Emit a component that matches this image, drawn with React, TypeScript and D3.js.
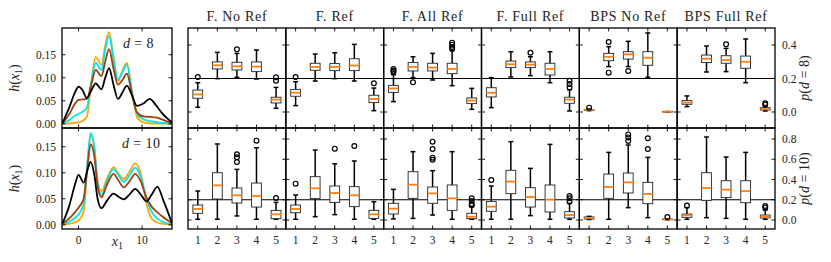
import React from 'react'
import * as d3 from 'd3'

const methods = ['F. No Ref', 'F. Ref', 'F. All Ref', 'F. Full Ref', 'BPS No Ref', 'BPS Full Ref']
const categories = [1, 2, 3, 4, 5]
const refLevel = 0.2

// [lower whisker, q1, median, q3, upper whisker, outliers]
type Box = [number, number, number, number, number, number[]]

// d = 8
const fNoRef8: Box[] = [
  [0.028, 0.082, 0.105, 0.131, 0.175, [0.209]],
  [0.199, 0.257, 0.279, 0.299, 0.356, []],
  [0.207, 0.251, 0.273, 0.297, 0.350, [0.374]],
  [0.197, 0.241, 0.271, 0.299, 0.370, []],
  [0.022, 0.054, 0.074, 0.088, 0.147, [0.187, 0.207]],
]
const fRef8: Box[] = [
  [0.038, 0.094, 0.115, 0.135, 0.181, [0.209]],
  [0.185, 0.249, 0.269, 0.291, 0.346, []],
  [0.199, 0.247, 0.269, 0.289, 0.354, []],
  [0.185, 0.247, 0.277, 0.318, 0.404, []],
  [0.008, 0.056, 0.078, 0.100, 0.143, [0.171]],
]
const fAllRef8: Box[] = [
  [0.062, 0.117, 0.141, 0.159, 0.223, [0.239, 0.247, 0.257]],
  [0.205, 0.245, 0.269, 0.295, 0.330, [0.177]],
  [0.191, 0.245, 0.265, 0.291, 0.350, []],
  [0.157, 0.229, 0.257, 0.291, 0.366, [0.378, 0.388, 0.402, 0.414]],
  [0.016, 0.050, 0.068, 0.084, 0.141, []],
]
const fFullRef8: Box[] = [
  [0.026, 0.090, 0.115, 0.145, 0.205, []],
  [0.209, 0.265, 0.285, 0.304, 0.360, []],
  [0.217, 0.265, 0.283, 0.299, 0.330, [0.354]],
  [0.175, 0.221, 0.257, 0.291, 0.360, []],
  [0.006, 0.052, 0.074, 0.088, 0.133, [0.147, 0.167, 0.187]],
]
const bpsNoRef8: Box[] = [
  [0.008, 0.010, 0.012, 0.015, 0.018, [0.026]],
  [0.271, 0.306, 0.330, 0.350, 0.390, [0.235, 0.418]],
  [0.271, 0.316, 0.344, 0.360, 0.422, [0.245]],
  [0.207, 0.279, 0.324, 0.360, 0.472, []],
  [0.001, 0.002, 0.002, 0.003, 0.003, []],
]
const bpsFullRef8: Box[] = [
  [0.032, 0.046, 0.056, 0.068, 0.096, []],
  [0.239, 0.295, 0.318, 0.340, 0.394, []],
  [0.241, 0.291, 0.310, 0.336, 0.380, [0.404]],
  [0.175, 0.261, 0.300, 0.334, 0.436, []],
  [0.006, 0.012, 0.020, 0.026, 0.036, [0.044, 0.052]],
]

// d = 10
const fNoRef10: Box[] = [
  [0.007, 0.066, 0.109, 0.148, 0.286, []],
  [0.007, 0.207, 0.342, 0.467, 0.751, []],
  [0.040, 0.168, 0.244, 0.316, 0.500, [0.573, 0.619, 0.649]],
  [0.007, 0.128, 0.237, 0.365, 0.714, [0.784]],
  [0.007, 0.013, 0.056, 0.095, 0.174, [0.217]],
]
const fRef10: Box[] = [
  [0.007, 0.072, 0.109, 0.148, 0.247, [0.359]],
  [0.033, 0.211, 0.313, 0.428, 0.691, []],
  [0.053, 0.174, 0.267, 0.336, 0.556, [0.705]],
  [0.007, 0.132, 0.244, 0.329, 0.583, [0.731]],
  [0.007, 0.016, 0.056, 0.095, 0.181, []],
]
const fAllRef10: Box[] = [
  [0.010, 0.059, 0.112, 0.165, 0.303, []],
  [0.016, 0.214, 0.349, 0.477, 0.675, []],
  [0.049, 0.165, 0.263, 0.326, 0.487, [0.596, 0.616, 0.701, 0.774]],
  [0.007, 0.095, 0.214, 0.346, 0.675, []],
  [0.007, 0.013, 0.033, 0.066, 0.132, [0.145, 0.158, 0.188, 0.214]],
]
const fFullRef10: Box[] = [
  [0.007, 0.086, 0.132, 0.184, 0.336, [0.395]],
  [0.007, 0.260, 0.379, 0.491, 0.774, []],
  [0.043, 0.128, 0.227, 0.319, 0.510, []],
  [0.007, 0.079, 0.201, 0.346, 0.747, []],
  [0.007, 0.020, 0.049, 0.082, 0.165, [0.181, 0.214, 0.237]],
]
const bpsNoRef10: Box[] = [
  [0.005, 0.010, 0.020, 0.030, 0.036, []],
  [0.007, 0.214, 0.326, 0.454, 0.668, []],
  [0.122, 0.267, 0.372, 0.464, 0.741, [0.780, 0.816, 0.846]],
  [0.023, 0.161, 0.257, 0.372, 0.619, [0.701, 0.807]],
  [0.002, 0.004, 0.007, 0.009, 0.012, [0.030]],
]
const bpsFullRef10: Box[] = [
  [0.007, 0.026, 0.046, 0.059, 0.122, [0.142]],
  [0.023, 0.194, 0.316, 0.467, 0.820, []],
  [0.016, 0.221, 0.300, 0.388, 0.622, []],
  [0.007, 0.171, 0.286, 0.388, 0.668, []],
  [0.007, 0.020, 0.033, 0.049, 0.099, [0.122, 0.138]],
]

const boxes8 = [fNoRef8, fRef8, fAllRef8, fFullRef8, bpsNoRef8, bpsFullRef8]
const boxes10 = [fNoRef10, fRef10, fAllRef10, fFullRef10, bpsNoRef10, bpsFullRef10]

// densities h(x1), d = 8
const hx8 = [-2.5, -1.5, -0.5, 0, 0.6, 1.3, 2, 2.7, 3.6, 4.2, 4.8, 5.5, 6.2, 6.9, 7.6, 8.4, 9.2, 10.2, 11.2, 12.2, 13.2, 14.7]
const h8Black = [0.002, 0.034, 0.07, 0.081, 0.074, 0.056, 0.072, 0.088, 0.075, 0.1, 0.121, 0.085, 0.054, 0.068, 0.083, 0.062, 0.039, 0.044, 0.054, 0.04, 0.022, 0.003]
const h8Brown = [0.002, 0.02, 0.045, 0.052, 0.053, 0.054, 0.085, 0.117, 0.104, 0.135, 0.162, 0.12, 0.085, 0.095, 0.109, 0.065, 0.025, 0.016, 0.015, 0.014, 0.009, 0.001]
const h8Cyan = [0.001, 0.008, 0.018, 0.022, 0.026, 0.035, 0.09, 0.133, 0.117, 0.16, 0.191, 0.14, 0.096, 0.112, 0.128, 0.07, 0.022, 0.01, 0.006, 0.004, 0.002, 0.001]
const h8Orange = [0.0005, 0.001, 0.002, 0.003, 0.006, 0.015, 0.09, 0.145, 0.128, 0.17, 0.199, 0.145, 0.092, 0.115, 0.132, 0.07, 0.015, 0.003, 0.001, 0.0005, 0.0003, 0.0002]

// densities h(x1), d = 10
const hx10 = [-2.5, -1.5, -0.5, 0, 0.8, 1.4, 1.9, 2.5, 3.0, 3.6, 4.5, 5.5, 6.3, 7.1, 8.0, 8.9, 9.8, 10.7, 11.5, 12.4, 13.4, 14.7]
const h10Black = [0.003, 0.035, 0.08, 0.096, 0.081, 0.105, 0.121, 0.095, 0.05, 0.032, 0.047, 0.06, 0.054, 0.049, 0.058, 0.069, 0.058, 0.045, 0.058, 0.073, 0.045, 0.003]
const h10Brown = [0.002, 0.012, 0.025, 0.033, 0.05, 0.11, 0.155, 0.13, 0.075, 0.053, 0.078, 0.098, 0.085, 0.072, 0.083, 0.098, 0.083, 0.052, 0.035, 0.024, 0.014, 0.003]
const h10Cyan = [0.001, 0.006, 0.014, 0.02, 0.04, 0.12, 0.176, 0.145, 0.08, 0.057, 0.085, 0.107, 0.095, 0.083, 0.095, 0.11, 0.092, 0.05, 0.025, 0.012, 0.005, 0.001]
const h10Orange = [0.0005, 0.002, 0.005, 0.008, 0.025, 0.115, 0.172, 0.148, 0.085, 0.065, 0.09, 0.111, 0.098, 0.088, 0.102, 0.118, 0.098, 0.04, 0.012, 0.004, 0.002, 0.0005]

const curveColors = ['#ffa500', '#00e5ee', '#a0400f', '#000000']

const TICK = 3.5
const txt: React.CSSProperties = { fontFamily: "'Liberation Serif', 'DejaVu Serif', serif", fill: '#222' }

const leftX: [number, number] = [62, 172]
const rows: [number, number][] = [[28, 128], [128, 229]]
const boxX0 = 188
const boxX1 = 775
const panelW = (boxX1 - boxX0) / 6

const hxScale = d3.scaleLinear().domain([-2.6, 14.7]).range(leftX)
const hyScales = [
  d3.scaleLinear().domain([-0.009, 0.208]).range([rows[0][1], rows[0][0]]),
  d3.scaleLinear().domain([-0.008, 0.186]).range([rows[1][1], rows[1][0]]),
]
const pyScales = [
  d3.scaleLinear().domain([-0.0955, 0.5015]).range([rows[0][1], rows[0][0]]),
  d3.scaleLinear().domain([-0.089, 0.909]).range([rows[1][1], rows[1][0]]),
]
const hTicks = [0, 0.05, 0.1, 0.15]
const pTicks = [[0, 0.2, 0.4], [0, 0.2, 0.4, 0.6, 0.8]]
const xTicks = [0, 10]

function DensityPanel({ row }: { row: number }) {
  const y = hyScales[row]
  const xs = row === 0 ? hx8 : hx10
  const series = row === 0 ? [h8Orange, h8Cyan, h8Brown, h8Black] : [h10Orange, h10Cyan, h10Brown, h10Black]
  const [top, bottom] = rows[row]
  const line = d3.line<number>().x((_, i) => hxScale(xs[i])).y(d => y(d)).curve(d3.curveMonotoneX)
  return (
    <g>
      <defs>
        <clipPath id={'hclip' + row}>
          <rect x={leftX[0]} y={top} width={leftX[1] - leftX[0]} height={bottom - top} />
        </clipPath>
      </defs>
      <g clipPath={`url(#hclip${row})`}>
        {series.map((s, i) => (
          <path key={i} d={line(s) || ''} fill="none" stroke={curveColors[i]} strokeWidth={1.8} />
        ))}
      </g>
      {hTicks.map(t => (
        <g key={t}>
          <line x1={leftX[0]} x2={leftX[0] + TICK} y1={y(t)} y2={y(t)} stroke="#000" strokeWidth={0.9} />
          <line x1={leftX[1]} x2={leftX[1] - TICK} y1={y(t)} y2={y(t)} stroke="#000" strokeWidth={0.9} />
          <text x={leftX[0] - 6} y={y(t)} dy="0.35em" textAnchor="end" fontSize={11.5} style={txt}>{t.toFixed(2)}</text>
        </g>
      ))}
      {xTicks.map(t => (
        <g key={t}>
          <line x1={hxScale(t)} x2={hxScale(t)} y1={top} y2={top + TICK} stroke="#000" strokeWidth={0.9} />
          <line x1={hxScale(t)} x2={hxScale(t)} y1={bottom} y2={bottom - TICK} stroke="#000" strokeWidth={0.9} />
          {row === 1 && (
            <text x={hxScale(t)} y={bottom + 15} textAnchor="middle" fontSize={11.5} style={txt}>{t}</text>
          )}
        </g>
      ))}
      <rect x={leftX[0]} y={top} width={leftX[1] - leftX[0]} height={bottom - top} fill="none" stroke="#000" strokeWidth={1.3} />
      <text x={row === 0 ? 123 : 122} y={top + 20} fontSize={14} letterSpacing={0.4} style={txt}>
        <tspan fontStyle="italic">d</tspan> = {row === 0 ? 8 : 10}
      </text>
      <text transform={`translate(19,${(top + bottom) / 2}) rotate(-90)`} textAnchor="middle" fontSize={14} style={txt}>
        <tspan fontStyle="italic">h</tspan>(<tspan fontStyle="italic">x</tspan><tspan fontSize={10} dy={3}>1</tspan><tspan dy={-3}>)</tspan>
      </text>
    </g>
  )
}

function BoxPanel({ row, col, data }: { row: number; col: number; data: Box[] }) {
  const x0 = boxX0 + col * panelW
  const x = d3.scaleLinear().domain([0.5, 5.5]).range([x0, x0 + panelW])
  const y = pyScales[row]
  const [top, bottom] = rows[row]
  const bw = x(1.25) - x(1)
  const cw = bw / 2
  return (
    <g>
      <line x1={x0} x2={x0 + panelW} y1={y(refLevel)} y2={y(refLevel)} stroke="#000" strokeWidth={1.2} />
      {data.map((b, i) => {
        const cx = x(categories[i])
        const [lo, q1, med, q3, hi, out] = b
        return (
          <g key={i}>
            <line x1={cx} x2={cx} y1={y(q1)} y2={y(lo)} stroke="#000" strokeWidth={1.5} />
            <line x1={cx} x2={cx} y1={y(q3)} y2={y(hi)} stroke="#000" strokeWidth={1.5} />
            <line x1={cx - cw} x2={cx + cw} y1={y(lo)} y2={y(lo)} stroke="#000" strokeWidth={1.5} />
            <line x1={cx - cw} x2={cx + cw} y1={y(hi)} y2={y(hi)} stroke="#000" strokeWidth={1.5} />
            <rect x={cx - bw} y={y(q3)} width={bw * 2} height={Math.max(0.5, y(q1) - y(q3))} fill="#fff" stroke="#222" strokeWidth={0.9} />
            <line x1={cx - bw} x2={cx + bw} y1={y(med)} y2={y(med)} stroke="#ff7f0e" strokeWidth={1.8} />
            {out.map((o, j) => (
              <circle key={j} cx={cx} cy={y(o)} r={2.4} fill="none" stroke="#000" strokeWidth={1.2} />
            ))}
          </g>
        )
      })}
      {pTicks[row].map(t => (
        <g key={t}>
          <line x1={x0} x2={x0 + TICK} y1={y(t)} y2={y(t)} stroke="#000" strokeWidth={0.9} />
          <line x1={x0 + panelW} x2={x0 + panelW - TICK} y1={y(t)} y2={y(t)} stroke="#000" strokeWidth={0.9} />
          {col === 5 && (
            <text x={x0 + panelW + 7} y={y(t)} dy="0.35em" fontSize={11.5} style={txt}>{t.toFixed(1)}</text>
          )}
        </g>
      ))}
      {categories.map(c => (
        <g key={c}>
          <line x1={x(c)} x2={x(c)} y1={top} y2={top + TICK} stroke="#000" strokeWidth={0.9} />
          <line x1={x(c)} x2={x(c)} y1={bottom} y2={bottom - TICK} stroke="#000" strokeWidth={0.9} />
          {row === 1 && (
            <text x={x(c)} y={bottom + 15} textAnchor="middle" fontSize={11.5} style={txt}>{c}</text>
          )}
        </g>
      ))}
      <rect x={x0} y={top} width={panelW} height={bottom - top} fill="none" stroke="#000" strokeWidth={1.3} />
      {row === 0 && (
        <text x={x0 + panelW / 2} y={21} textAnchor="middle" fontSize={14} letterSpacing={0.7} style={txt}>{methods[col]}</text>
      )}
    </g>
  )
}

export default function App() {
  return (
    <svg width={831} height={262} style={{ position: 'absolute', left: 0, top: 0, background: '#fff' }}>
      <DensityPanel row={0} />
      <DensityPanel row={1} />
      {boxes8.map((d, i) => <BoxPanel key={'a' + i} row={0} col={i} data={d} />)}
      {boxes10.map((d, i) => <BoxPanel key={'b' + i} row={1} col={i} data={d} />)}
      <text x={hxScale(6.1)} y={246} textAnchor="middle" fontSize={14} style={txt}>
        <tspan fontStyle="italic">x</tspan><tspan fontSize={10} dy={3}>1</tspan>
      </text>
      {[0, 1].map(r => (
        <text key={r} transform={`translate(809,${(rows[r][0] + rows[r][1]) / 2}) rotate(-90)`} textAnchor="middle" fontSize={14} style={txt}>
          <tspan fontStyle="italic">p</tspan>(<tspan fontStyle="italic">d</tspan> = {r === 0 ? 8 : 10})
        </text>
      ))}
    </svg>
  )
}
